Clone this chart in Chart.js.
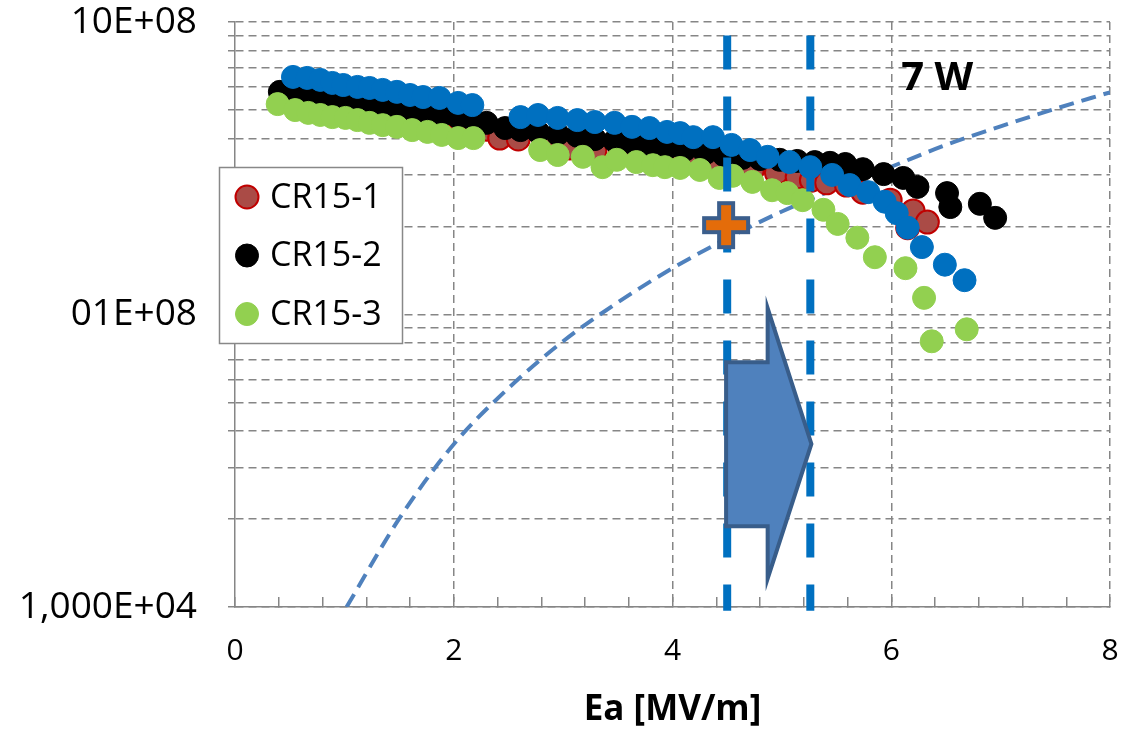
<!DOCTYPE html>
<html>
<head>
<meta charset="utf-8">
<script src="https://cdn.jsdelivr.net/npm/chart.js@4.4.1/dist/chart.umd.min.js"></script>
<style>
  body { margin: 0; background: #fff; }
</style>
</head>
<body>
<canvas id="qChart" width="1132" height="731"></canvas>
<script>
// values: Ea [MV/m] and Q0
var cr151Ea = [0.43, 0.57, 0.69, 0.82, 0.94, 1.06, 1.18, 1.30, 1.42, 1.54, 1.66, 1.78, 1.92, 2.06, 2.19, 2.30, 2.42, 2.59, 2.83, 3.06, 3.29, 3.52, 3.75, 3.98, 4.20, 4.43, 4.59, 4.73, 4.95, 5.14, 5.27, 5.41, 5.59, 5.74, 5.99, 6.15, 6.20, 6.33];
var cr151Q = [5.5e8, 5.45e8, 5.36e8, 5.28e8, 5.2e8, 5.12e8, 5.04e8, 5.0e8, 4.92e8, 4.84e8, 4.77e8, 4.7e8, 4.62e8, 4.55e8, 4.48e8, 4.3e8, 4.01e8, 3.98e8, 3.86e8, 3.71e8, 3.62e8, 3.54e8, 3.46e8, 3.40e8, 3.35e8, 3.30e8, 3.19e8, 3.12e8, 3.05e8, 2.95e8, 2.88e8, 2.82e8, 2.77e8, 2.62e8, 2.46e8, 1.98e8, 2.26e8, 2.07e8];

var cr152Ea = [0.41, 0.55, 0.67, 0.80, 0.92, 1.04, 1.16, 1.28, 1.40, 1.52, 1.64, 1.76, 1.90, 2.04, 2.17, 2.30, 2.47, 2.61, 2.77, 2.95, 3.13, 3.29, 3.47, 3.63, 3.79, 3.95, 4.11, 4.30, 4.47, 4.64, 4.80, 4.98, 5.14, 5.30, 5.44, 5.58, 5.74, 5.93, 6.11, 6.24, 6.51, 6.54, 6.81, 6.95];
var cr152Q = [5.77e8, 5.67e8, 5.58e8, 5.50e8, 5.41e8, 5.33e8, 5.24e8, 5.20e8, 5.12e8, 5.04e8, 4.96e8, 4.89e8, 4.81e8, 4.73e8, 4.66e8, 4.52e8, 4.34e8, 4.27e8, 4.21e8, 4.14e8, 4.08e8, 3.98e8, 3.92e8, 3.86e8, 3.80e8, 3.71e8, 3.65e8, 3.56e8, 3.51e8, 3.43e8, 3.40e8, 3.38e8, 3.35e8, 3.32e8, 3.30e8, 3.27e8, 3.14e8, 3.02e8, 2.93e8, 2.73e8, 2.60e8, 2.33e8, 2.39e8, 2.14e8];

var cr153Ea = [0.39, 0.55, 0.67, 0.78, 0.89, 1.01, 1.12, 1.23, 1.35, 1.48, 1.62, 1.76, 1.89, 2.04, 2.18, 2.79, 2.95, 3.18, 3.36, 3.49, 3.67, 3.82, 3.93, 4.07, 4.25, 4.43, 4.55, 4.73, 4.91, 5.05, 5.19, 5.38, 5.51, 5.69, 5.85, 6.13, 6.30, 6.37, 6.69];
var cr153Q = [5.24e8, 5.0e8, 4.89e8, 4.81e8, 4.73e8, 4.70e8, 4.62e8, 4.52e8, 4.44e8, 4.38e8, 4.27e8, 4.21e8, 4.11e8, 4.01e8, 4.01e8, 3.65e8, 3.51e8, 3.46e8, 3.19e8, 3.38e8, 3.32e8, 3.24e8, 3.19e8, 3.17e8, 3.12e8, 2.93e8, 2.98e8, 2.84e8, 2.66e8, 2.60e8, 2.46e8, 2.28e8, 2.04e8, 1.83e8, 1.57e8, 1.44e8, 1.14e8, 8.1e7, 8.9e7];

// blue series (not in the legend)
var blueEa = [0.53, 0.66, 0.78, 0.89, 0.99, 1.12, 1.23, 1.35, 1.48, 1.60, 1.72, 1.87, 2.04, 2.17, 2.61, 2.77, 2.95, 3.13, 3.29, 3.47, 3.63, 3.79, 3.95, 4.07, 4.19, 4.37, 4.54, 4.71, 4.87, 5.07, 5.26, 5.46, 5.62, 5.79, 5.94, 6.05, 6.15, 6.28, 6.49, 6.67];
var blueQ = [6.49e8, 6.44e8, 6.34e8, 6.19e8, 6.09e8, 6.0e8, 5.95e8, 5.86e8, 5.77e8, 5.63e8, 5.54e8, 5.50e8, 5.29e8, 5.20e8, 4.73e8, 4.81e8, 4.70e8, 4.62e8, 4.55e8, 4.52e8, 4.38e8, 4.34e8, 4.21e8, 4.17e8, 4.04e8, 4.04e8, 3.80e8, 3.65e8, 3.46e8, 3.32e8, 3.19e8, 3.00e8, 2.77e8, 2.62e8, 2.43e8, 2.22e8, 1.98e8, 1.70e8, 1.48e8, 1.31e8];

// 7 W limit curve
var limitEa = [1.02, 1.5, 2, 2.5, 3, 3.5, 4, 4.5, 5, 5.5, 6, 6.5, 7, 7.5, 8];
var limitQ = [1.0e7, 2.0e7, 3.6e7, 5.6e7, 8.1e7, 1.1e8, 1.44e8, 1.82e8, 2.25e8, 2.7e8, 3.2e8, 3.8e8, 4.4e8, 5.05e8, 5.75e8];

// vertical markers and the design point
var markerEa = [4.50, 5.26];
var markerQ = [9e8, 9.7e6];
var pointEa = [4.49];
var pointQ = [2.02e8];

// arrow outline (Ea, Q)
var arrowEa = [4.49, 4.87, 4.87, 5.27, 4.87, 4.87, 4.49];
var arrowQ = [6.87e7, 6.87e7, 1.05e8, 3.61e7, 1.25e7, 1.89e7, 1.89e7];

var noteText = '7 W';
var noteEa = 6.42;
var noteQ = 6.4e8;

// axis ticks
var xLabelValues = [0, 2, 4, 6, 8];
var yGridValues = [1e7, 2e7, 3e7, 4e7, 5e7, 6e7, 7e7, 8e7, 9e7, 1e8, 2e8, 3e8, 4e8, 5e8, 6e8, 7e8, 8e8, 9e8, 1e9];
var yMajorValues = [1e7, 1e8, 1e9];
var yMajorLabels = ['1,000E+04', '01E+08', '10E+08'];

function pairs(xs, ys) {
  return xs.map(function(x, i) { return {x: x, y: ys[i]}; });
}

var FONT = "'Open Sans', sans-serif";
var GRID = '#868686';

// plus marker image
var plusImg = document.createElement('canvas');
plusImg.width = 54; plusImg.height = 54;
(function() {
  var pc = plusImg.getContext('2d');
  var c = 27, a = 22, t = 7;
  pc.beginPath();
  pc.moveTo(c - t, c - a); pc.lineTo(c + t, c - a); pc.lineTo(c + t, c - t);
  pc.lineTo(c + a, c - t); pc.lineTo(c + a, c + t); pc.lineTo(c + t, c + t);
  pc.lineTo(c + t, c + a); pc.lineTo(c - t, c + a); pc.lineTo(c - t, c + t);
  pc.lineTo(c - a, c + t); pc.lineTo(c - a, c - t); pc.lineTo(c - t, c - t);
  pc.closePath();
  pc.fillStyle = '#E46C0A';
  pc.fill();
  pc.lineWidth = 4;
  pc.strokeStyle = '#3B5E8C';
  pc.stroke();
})();

var gridDash = function(ctx) { return ctx.type === 'tick' ? [8, 5] : []; };

var annotations = {
  id: 'annotations',
  afterDatasetsDraw: function(chart) {
    var ctx = chart.ctx, xs = chart.scales.x, ys = chart.scales.y;
    ctx.save();
    ctx.beginPath();
    arrowEa.forEach(function(e, i) {
      var px = xs.getPixelForValue(e), py = ys.getPixelForValue(arrowQ[i]);
      if (i === 0) ctx.moveTo(px, py); else ctx.lineTo(px, py);
    });
    ctx.closePath();
    ctx.fillStyle = '#4F81BD';
    ctx.fill();
    ctx.lineWidth = 4;
    ctx.strokeStyle = '#385D8A';
    ctx.stroke();

    ctx.fillStyle = '#000';
    ctx.font = 'bold 40px ' + FONT;
    ctx.textAlign = 'center';
    ctx.textBaseline = 'middle';
    ctx.fillText(noteText, xs.getPixelForValue(noteEa), ys.getPixelForValue(noteQ));
    ctx.restore();
  },
  afterDraw: function(chart) {
    var ctx = chart.ctx;
    ctx.save();
    ctx.fillStyle = '#fff';
    ctx.fillRect(219.5, 167.5, 183, 176);
    ctx.lineWidth = 1.5;
    ctx.strokeStyle = '#888';
    ctx.strokeRect(219.5, 167.5, 183, 176);
    chart.data.datasets.slice(0, 3).forEach(function(ds, i) {
      var y = 197 + i * 58.5;
      ctx.beginPath();
      ctx.arc(247, y, 11.5, 0, 2 * Math.PI);
      ctx.fillStyle = ds.backgroundColor;
      ctx.fill();
      ctx.lineWidth = ds.borderWidth;
      ctx.strokeStyle = ds.borderColor;
      ctx.stroke();
      ctx.fillStyle = '#000';
      ctx.font = '34px ' + FONT;
      ctx.textAlign = 'left';
      ctx.textBaseline = 'middle';
      ctx.fillText(ds.label, 270, y + 1);
    });
    ctx.restore();
  }
};

new Chart(document.getElementById('qChart'), {
  type: 'scatter',
  data: {
    datasets: [
      { label: 'CR15-1', data: pairs(cr151Ea, cr151Q), backgroundColor: '#AA4B46', borderColor: '#C00000', borderWidth: 2, pointRadius: 11.5, order: 5 },
      { label: 'CR15-2', data: pairs(cr152Ea, cr152Q), backgroundColor: '#000000', borderColor: '#000000', borderWidth: 1, pointRadius: 11.5, order: 4 },
      { label: 'CR15-3', data: pairs(cr153Ea, cr153Q), backgroundColor: '#92D050', borderColor: '#92D050', borderWidth: 1, pointRadius: 11.5, order: 3 },
      { label: 'CR15', data: pairs(blueEa, blueQ), backgroundColor: '#0070C0', borderColor: '#0070C0', borderWidth: 1, pointRadius: 11.5, order: 2 },
      { label: '7 W', data: pairs(limitEa, limitQ), showLine: true, pointRadius: 0, borderColor: '#4F81BD', borderWidth: 4, borderDash: [15, 8], cubicInterpolationMode: 'monotone', order: 7 },
      { label: 'start', data: pairs([markerEa[0], markerEa[0]], markerQ), showLine: true, pointRadius: 0, borderColor: '#0070C0', borderWidth: 8, borderDash: [34, 27], clip: false, order: 1 },
      { label: 'end', data: pairs([markerEa[1], markerEa[1]], markerQ), showLine: true, pointRadius: 0, borderColor: '#0070C0', borderWidth: 8, borderDash: [34, 27], clip: false, order: 1 },
      { label: 'point', data: pairs(pointEa, pointQ), pointStyle: plusImg, order: 0 }
    ]
  },
  options: {
    responsive: false,
    animation: false,
    events: [],
    layout: { autoPadding: false, padding: { left: 0, right: 22, top: 22, bottom: 0 } },
    plugins: { legend: { display: false }, tooltip: { enabled: false } },
    scales: {
      x: {
        type: 'linear', min: 0, max: 8,
        afterFit: function(s) {
          s.height = 124;
          s.paddingLeft = 0;
          s.paddingRight = 10;
        },
        ticks: {
          stepSize: 0.4, autoSkip: false, maxRotation: 0, padding: 36, color: '#000',
          font: { family: FONT, size: 30 },
          callback: function(v) {
            for (var i = 0; i < xLabelValues.length; i++) {
              if (Math.abs(v - xLabelValues[i]) < 1e-6) return String(xLabelValues[i]);
            }
            return '';
          }
        },
        grid: {
          color: function(ctx) {
            var v = ctx.tick ? ctx.tick.value : 0;
            for (var i = 1; i < xLabelValues.length; i++) {
              if (Math.abs(v - xLabelValues[i]) < 1e-6) return GRID;
            }
            return 'rgba(0,0,0,0)';
          },
          lineWidth: 1.5, tickLength: -10, tickColor: GRID, tickWidth: 1.5, tickBorderDash: [],
          borderDash: gridDash
        },
        border: { display: true, color: GRID, width: 1.5, dash: gridDash },
        title: { display: true, text: 'Ea [MV/m]', color: '#000', padding: 0, font: { family: FONT, size: 35, weight: 'bold' } }
      },
      y: {
        type: 'logarithmic', min: 1e7, max: 1e9,
        afterFit: function(s) {
          s.width = 235;
          s.paddingTop = 18;
          s.paddingBottom = 18;
        },
        afterBuildTicks: function(s) {
          s.ticks = yGridValues.map(function(v) { return { value: v, major: yMajorValues.indexOf(v) >= 0 }; });
        },
        ticks: {
          autoSkip: false, padding: 31, color: '#000',
          font: { family: FONT, size: 37, lineHeight: 1 },
          callback: function(v) {
            var i = yMajorValues.indexOf(v);
            return i >= 0 ? yMajorLabels[i] : '';
          }
        },
        grid: { color: GRID, lineWidth: 1.5, tickLength: 7, tickColor: GRID, tickWidth: 1.5, tickBorderDash: [], borderDash: gridDash },
        border: { display: true, color: GRID, width: 1.5, dash: gridDash }
      }
    }
  },
  plugins: [annotations]
});
</script>
</body>
</html>
